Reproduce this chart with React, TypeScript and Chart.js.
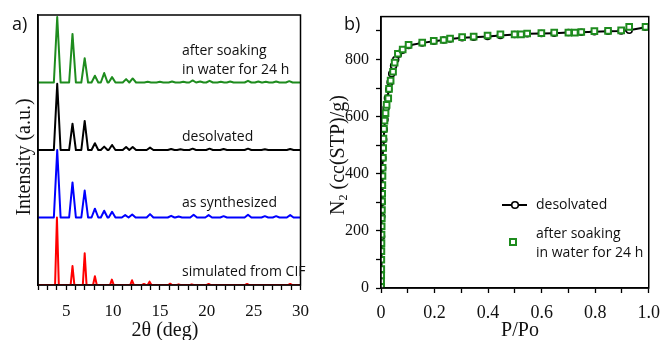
import React, { useEffect, useRef } from 'react';
import { Chart, registerables } from 'chart.js';
Chart.register(...registerables);

// ---------- Panel a: PXRD patterns ----------
const xrdTraceNames = ['simulated from CIF', 'as synthesized', 'desolvated', 'after soaking in water for 24 h'];
const xrdColors = ['#ff0000', '#0000ff', '#000000', '#1e8c1e'];
const xrdOffsets = [0, 1, 2, 3];

const simulatedPos = [4.02, 5.68, 6.98, 8.07, 9.88, 12.03, 13.3, 13.9, 16.1, 17.0, 18.4, 20.2, 24.3, 28.9];
const simulatedHeight = [1.0, 0.28, 0.47, 0.13, 0.08, 0.07, 0.015, 0.05, 0.02, 0.01, 0.01, 0.015, 0.015, 0.015];

const synthesizedPos = [4.05, 5.68, 6.98, 8.07, 9.06, 9.9, 11.3, 12.05, 13.95, 16.2, 17.0, 18.6, 20.2, 21.8, 24.4, 26.2, 27.4, 28.9];
const synthesizedHeight = [1.0, 0.52, 0.4, 0.13, 0.1, 0.085, 0.035, 0.045, 0.05, 0.025, 0.015, 0.04, 0.035, 0.02, 0.04, 0.02, 0.02, 0.035];

const desolvatedPos = [4.05, 5.68, 6.98, 8.07, 9.06, 9.9, 11.4, 12.1, 13.95, 16.2, 17.2, 18.5, 20.3, 21.8, 24.4, 26.2, 28.9];
const desolvatedHeight = [0.98, 0.39, 0.43, 0.1, 0.05, 0.075, 0.045, 0.045, 0.035, 0.015, 0.01, 0.02, 0.02, 0.015, 0.02, 0.01, 0.015];

const soakedPos = [4.05, 5.68, 6.98, 8.07, 9.06, 9.9, 11.4, 12.1, 13.7, 15.0, 16.3, 17.5, 18.5, 19.3, 20.3, 21.5, 22.5, 24.4, 25.5, 26.3, 27.4, 28.8];
const soakedHeight = [0.97, 0.72, 0.36, 0.1, 0.14, 0.08, 0.05, 0.06, 0.01, 0.01, 0.015, 0.01, 0.03, 0.015, 0.025, 0.01, 0.015, 0.025, 0.015, 0.01, 0.015, 0.02];

const xrdTickLabels = ['5', '10', '15', '20', '25', '30'];

// ---------- Panel b: N2 isotherms ----------
const desolvP = [0.0, 0.001, 0.002, 0.003, 0.004, 0.005, 0.006, 0.007, 0.008, 0.010, 0.012, 0.015, 0.019, 0.024, 0.029, 0.034, 0.040, 0.047, 0.055, 0.065, 0.080, 0.103, 0.154, 0.197, 0.234, 0.258, 0.303, 0.346, 0.398, 0.446, 0.499, 0.546, 0.599, 0.647, 0.700, 0.748, 0.797, 0.848, 0.897, 0.927, 0.988];
const desolvN2 = [5, 60, 180, 250, 300, 360, 420, 455, 490, 520, 555, 590, 630, 665, 695, 720, 750, 778, 800, 818, 832, 849, 858, 864, 868, 872, 876, 878, 880, 884, 887, 890, 891, 892, 894, 895, 897, 899, 900, 902, 913];

const soakedP = [0.0, 0.0005, 0.0008, 0.001, 0.0012, 0.0015, 0.0018, 0.002, 0.0025, 0.003, 0.0035, 0.004, 0.0045, 0.005, 0.0055, 0.006, 0.007, 0.008, 0.009, 0.011, 0.013, 0.017, 0.021, 0.027, 0.030, 0.036, 0.045, 0.051, 0.063, 0.081, 0.103, 0.154, 0.197, 0.234, 0.258, 0.303, 0.346, 0.398, 0.446, 0.499, 0.523, 0.546, 0.599, 0.647, 0.700, 0.724, 0.748, 0.797, 0.848, 0.897, 0.927, 0.988];
const soakedN2 = [5, 24, 44, 66, 99, 129, 157, 187, 216, 244, 273, 303, 330, 360, 392, 421, 456, 490, 523, 557, 586, 612, 641, 664, 697, 726, 757, 789, 820, 835, 851, 859, 865, 868, 873, 878, 880, 884, 888, 888, 888, 891, 892, 894, 894, 894, 896, 899, 900, 902, 914, 914];

const isoXTickValues = [0, 0.2, 0.4, 0.6, 0.8, 1.0];
const isoXTickLabels = ['0', '0.2', '0.4', '0.6', '0.8', '1.0'];
const isoYTickLabels = ['0', '200', '400', '600', '800'];

const SERIF = '"Liberation Serif", "Times New Roman", serif';
const SANS = '"Open Sans", "Noto Sans", sans-serif';
const GREEN = '#1e8c1e';

function tracePoints(pos: number[], h: number[], offset: number, hw: number) {
  const pts: { x: number; y: number }[] = [{ x: 2, y: offset }];
  pos.forEach((p, i) => {
    pts.push({ x: p - hw, y: offset }, { x: p, y: offset + h[i] }, { x: p + hw, y: offset });
  });
  pts.push({ x: 30, y: offset });
  return pts.sort((a, b) => a.x - b.x);
}

type TextItem = { text: string; x: number; y: number; font: string; align?: CanvasTextAlign; rotate?: boolean };

function decorPlugin(texts: TextItem[], extra?: (ctx: CanvasRenderingContext2D) => void) {
  return {
    id: 'decor',
    afterDraw(chart: any) {
      const ctx: CanvasRenderingContext2D = chart.ctx;
      const a = chart.chartArea;
      ctx.save();
      ctx.strokeStyle = '#000';
      ctx.lineWidth = 1.5;
      ctx.strokeRect(a.left, a.top, a.right - a.left, a.bottom - a.top);
      ctx.fillStyle = '#111';
      ctx.textBaseline = 'middle';
      texts.forEach((t) => {
        ctx.save();
        ctx.font = t.font;
        ctx.textAlign = t.align || 'left';
        if (t.rotate) {
          ctx.translate(t.x, t.y);
          ctx.rotate(-Math.PI / 2);
          ctx.fillText(t.text, 0, 0);
        } else {
          ctx.fillText(t.text, t.x, t.y);
        }
        ctx.restore();
      });
      if (extra) extra(ctx);
      ctx.restore();
    },
  };
}

export default function App() {
  const refA = useRef<HTMLCanvasElement>(null);
  const refB = useRef<HTMLCanvasElement>(null);

  useEffect(() => {
    const posList = [simulatedPos, synthesizedPos, desolvatedPos, soakedPos];
    const hList = [simulatedHeight, synthesizedHeight, desolvatedHeight, soakedHeight];
    const widths = [0.2, 0.36, 0.36, 0.36];

    const chartA = new Chart(refA.current!, {
      type: 'line',
      data: {
        datasets: xrdTraceNames.map((name, i) => ({
          label: name,
          data: tracePoints(posList[i], hList[i], xrdOffsets[i], widths[i]),
          borderColor: xrdColors[i],
          borderWidth: 2,
          pointRadius: 0,
          tension: 0,
          borderJoinStyle: 'round' as const,
          order: 3 - i,
        })),
      },
      options: {
        animation: false,
        responsive: false,
        parsing: false as any,
        layout: { padding: { top: 15, right: 8, left: 0, bottom: 0 } },
        plugins: { legend: { display: false }, tooltip: { enabled: false } },
        scales: {
          x: {
            type: 'linear',
            min: 2,
            max: 30,
            afterFit: (s: any) => { s.height = 55; },
            ticks: {
              stepSize: 1,
              autoSkip: false,
              maxRotation: 0,
              padding: 11,
              color: '#111',
              font: { family: SERIF, size: 17 },
              callback: (v: any) => (xrdTickLabels.includes(String(v)) ? String(v) : ''),
            },
            grid: { drawOnChartArea: false, tickLength: 5, tickColor: '#000', tickWidth: 1.3 },
            border: { display: true, color: '#000', width: 1.5 },
          },
          y: {
            type: 'linear',
            min: 0,
            max: 4,
            afterFit: (s: any) => { s.width = 38; },
            ticks: { display: false },
            grid: { display: false },
            border: { display: true, color: '#000', width: 1.5 },
          },
        },
      },
      plugins: [
        decorPlugin([
          { text: 'a)', x: 12, y: 25, font: `18px ${SANS}` },
          { text: 'Intensity (a.u.)', x: 25, y: 157, font: `20px ${SERIF}`, align: 'center', rotate: true },
          { text: '2θ (deg)', x: 165, y: 331, font: `20px ${SERIF}`, align: 'center' },
          { text: 'after soaking', x: 182, y: 51, font: `14px ${SANS}` },
          { text: 'in water for 24 h', x: 182, y: 70, font: `14px ${SANS}` },
          { text: 'desolvated', x: 182, y: 137, font: `14px ${SANS}` },
          { text: 'as synthesized', x: 182, y: 203, font: `14px ${SANS}` },
          { text: 'simulated from CIF', x: 182, y: 272, font: `14px ${SANS}` },
        ]),
      ],
    });

    const legendDraw = (ctx: CanvasRenderingContext2D) => {
      // desolvated entry
      ctx.strokeStyle = '#000';
      ctx.lineWidth = 2;
      ctx.beginPath();
      ctx.moveTo(182, 205);
      ctx.lineTo(207, 205);
      ctx.stroke();
      ctx.beginPath();
      ctx.arc(195, 205, 3.3, 0, Math.PI * 2);
      ctx.fillStyle = '#fff';
      ctx.fill();
      ctx.lineWidth = 1.6;
      ctx.stroke();
      // soaked entry
      ctx.strokeStyle = GREEN;
      ctx.lineWidth = 2;
      ctx.fillStyle = '#fff';
      ctx.fillRect(190, 239, 6, 6);
      ctx.strokeRect(190, 239, 6, 6);
      ctx.fillStyle = '#111';
      ctx.font = `14px ${SANS}`;
      ctx.textAlign = 'left';
      ctx.textBaseline = 'middle';
      ctx.fillText('desolvated', 216, 205);
      ctx.fillText('after soaking', 216, 234);
      ctx.fillText('in water for 24 h', 216, 253);
      // N2 axis title with subscript
      ctx.save();
      ctx.translate(19, 155);
      ctx.rotate(-Math.PI / 2);
      ctx.font = `20px ${SERIF}`;
      const wN = ctx.measureText('N').width;
      const rest = ' (cc(STP)/g)';
      const wR = ctx.measureText(rest).width;
      ctx.font = `12px ${SERIF}`;
      const w2 = ctx.measureText('2').width;
      const start = -(wN + w2 + wR) / 2;
      ctx.textAlign = 'left';
      ctx.font = `20px ${SERIF}`;
      ctx.fillText('N', start, 0);
      ctx.font = `12px ${SERIF}`;
      ctx.fillText('2', start + wN, 5);
      ctx.font = `20px ${SERIF}`;
      ctx.fillText(rest, start + wN + w2, 0);
      ctx.restore();
    };

    const chartB = new Chart(refB.current!, {
      type: 'line',
      data: {
        datasets: [
          {
            label: 'desolvated',
            data: desolvP.map((p, i) => ({ x: p, y: desolvN2[i] })),
            borderColor: '#000',
            backgroundColor: '#fff',
            borderWidth: 2,
            pointRadius: 3,
            pointBorderWidth: 1.5,
            pointBackgroundColor: '#fff',
            pointBorderColor: '#000',
            tension: 0,
            order: 1,
          },
          {
            label: 'after soaking in water for 24 h',
            data: soakedP.map((p, i) => ({ x: p, y: soakedN2[i] })),
            showLine: false,
            borderColor: GREEN,
            backgroundColor: '#fff',
            pointStyle: 'rect',
            pointRadius: 4,
            pointBorderWidth: 2,
            pointBackgroundColor: '#fff',
            pointBorderColor: GREEN,
            order: 0,
          },
        ],
      },
      options: {
        animation: false,
        responsive: false,
        parsing: false as any,
        layout: { padding: { top: 15, right: 14, left: 0, bottom: 0 } },
        plugins: { legend: { display: false }, tooltip: { enabled: false } },
        scales: {
          x: {
            type: 'linear',
            min: 0,
            max: 1,
            afterFit: (s: any) => { s.height = 52; },
            ticks: {
              stepSize: 0.1,
              autoSkip: false,
              maxRotation: 0,
              includeBounds: false,
              padding: 9,
              color: '#111',
              font: { family: SERIF, size: 18 },
              callback: (v: any) => {
                const idx = isoXTickValues.findIndex((t) => Math.abs(t - v) < 1e-6);
                return idx >= 0 ? isoXTickLabels[idx] : '';
              },
            },
            grid: { drawOnChartArea: false, tickLength: 5, tickColor: '#000', tickWidth: 1.3 },
            border: { display: true, color: '#000', width: 1.5 },
          },
          y: {
            type: 'linear',
            min: 0,
            max: 950,
            afterFit: (s: any) => { s.width = 61; },
            ticks: {
              stepSize: 100,
              autoSkip: false,
              includeBounds: false,
              padding: 7,
              color: '#111',
              font: { family: SERIF, size: 16 },
              callback: (v: any) => (isoYTickLabels.includes(String(v)) ? String(v) : ''),
            },
            grid: { drawOnChartArea: false, tickLength: 5, tickColor: '#000', tickWidth: 1.3 },
            border: { display: true, color: '#000', width: 1.5 },
          },
        },
      },
      plugins: [
        decorPlugin(
          [
            { text: 'b)', x: 24, y: 25, font: `18px ${SANS}` },
            { text: 'P/Po', x: 200, y: 331, font: `20px ${SERIF}`, align: 'center' },
          ],
          legendDraw
        ),
      ],
    });

    return () => {
      chartA.destroy();
      chartB.destroy();
    };
  }, []);

  return (
    <div style={{ position: 'fixed', left: 0, top: 0, width: 669, height: 340, background: '#fff' }}>
      <canvas ref={refA} width={320} height={340} style={{ position: 'absolute', left: 0, top: 0, width: 320, height: 340 }} />
      <canvas ref={refB} width={349} height={340} style={{ position: 'absolute', left: 320, top: 0, width: 349, height: 340 }} />
    </div>
  );
}
